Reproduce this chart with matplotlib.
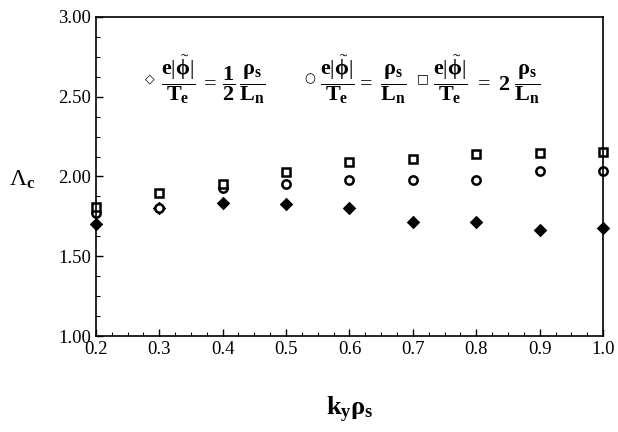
import matplotlib
matplotlib.use("Agg")
import matplotlib.pyplot as plt
from matplotlib.ticker import MultipleLocator

# data
k = [0.2, 0.3, 0.4, 0.5, 0.6, 0.7, 0.8, 0.9, 1.0]
lam_half = [1.70, 1.80, 1.835, 1.825, 1.80, 1.715, 1.715, 1.665, 1.677]
lam_one = [1.77, 1.80, 1.93, 1.955, 1.98, 1.98, 1.98, 2.035, 2.035]
lam_two = [1.81, 1.895, 1.955, 2.03, 2.09, 2.11, 2.14, 2.15, 2.155]

plt.rcParams['font.family'] = ['Liberation Serif', 'DejaVu Serif']
plt.rcParams['mathtext.fontset'] = 'custom'
plt.rcParams['mathtext.rm'] = 'Liberation Serif'
plt.rcParams['mathtext.it'] = 'Liberation Serif:bold'
plt.rcParams['mathtext.bf'] = 'Liberation Serif:bold'

fig = plt.figure(figsize=(6.18, 4.32), dpi=100)
ax = fig.add_axes([0.155, 0.222, 0.821, 0.739])

ax.plot(k, lam_half, ls='none', marker='D', ms=5, mfc='black', mec='black', mew=1.8, clip_on=False)
ax.plot(k, lam_one, ls='none', marker='o', ms=6, mfc='white', mec='black', mew=1.8, clip_on=False)
ax.plot(k, lam_two, ls='none', marker='s', ms=6, mfc='white', mec='black', mew=1.8, clip_on=False)

ax.set_xlim(0.2, 1.0)
ax.set_ylim(1.0, 3.0)
ax.xaxis.set_major_locator(MultipleLocator(0.1))
ax.xaxis.set_minor_locator(MultipleLocator(0.025))
ax.yaxis.set_major_locator(MultipleLocator(0.5))
ax.yaxis.set_minor_locator(MultipleLocator(0.125))
ax.set_xticklabels([f"{v:.1f}" for v in ax.get_xticks()])
ax.set_yticklabels([f"{v:.2f}" for v in ax.get_yticks()])
ax.tick_params(which='both', direction='in', labelsize=13.5, top=False, right=False)
ax.tick_params(which='major', length=5, width=1)
ax.tick_params(which='minor', length=3, width=0.8)
for s in ax.spines.values():
    s.set_linewidth(1.2)

fig.text(22 / 618, 1 - 180 / 432, r'$\Lambda_c$', fontsize=17, ha='center', va='center')
fig.text(0.5 * (0.155 + 0.976), 1 - 410 / 432, r'$k_y\rho_s$', fontsize=19, ha='center', va='center')

# legend text
ly = 2.61
ax.text(0.285, ly, '\u25c7', fontsize=9, va='center', ha='center', family='DejaVu Sans')
ax.text(0.303, ly, r'$\dfrac{e|\tilde{\phi}|}{T_e}\,=\,\mathbf{\dfrac{1}{2}}\,\dfrac{\rho_s}{L_n}$', fontsize=16, va='center')
ax.text(0.537, ly, '\u25cb', fontsize=9, va='center', ha='center', family='DejaVu Sans')
ax.text(0.553, ly, r'$\dfrac{e|\tilde{\phi}|}{T_e}=\;\dfrac{\rho_s}{L_n}$', fontsize=16, va='center')
ax.text(0.716, ly, '\u25a1', fontsize=9, va='center', ha='center', family='DejaVu Sans')
ax.text(0.731, ly, r'$\dfrac{e|\tilde{\phi}|}{T_e}\;=\;\mathbf{2}\;\dfrac{\rho_s}{L_n}$', fontsize=16, va='center')

fig.savefig('out.png', dpi=100)
